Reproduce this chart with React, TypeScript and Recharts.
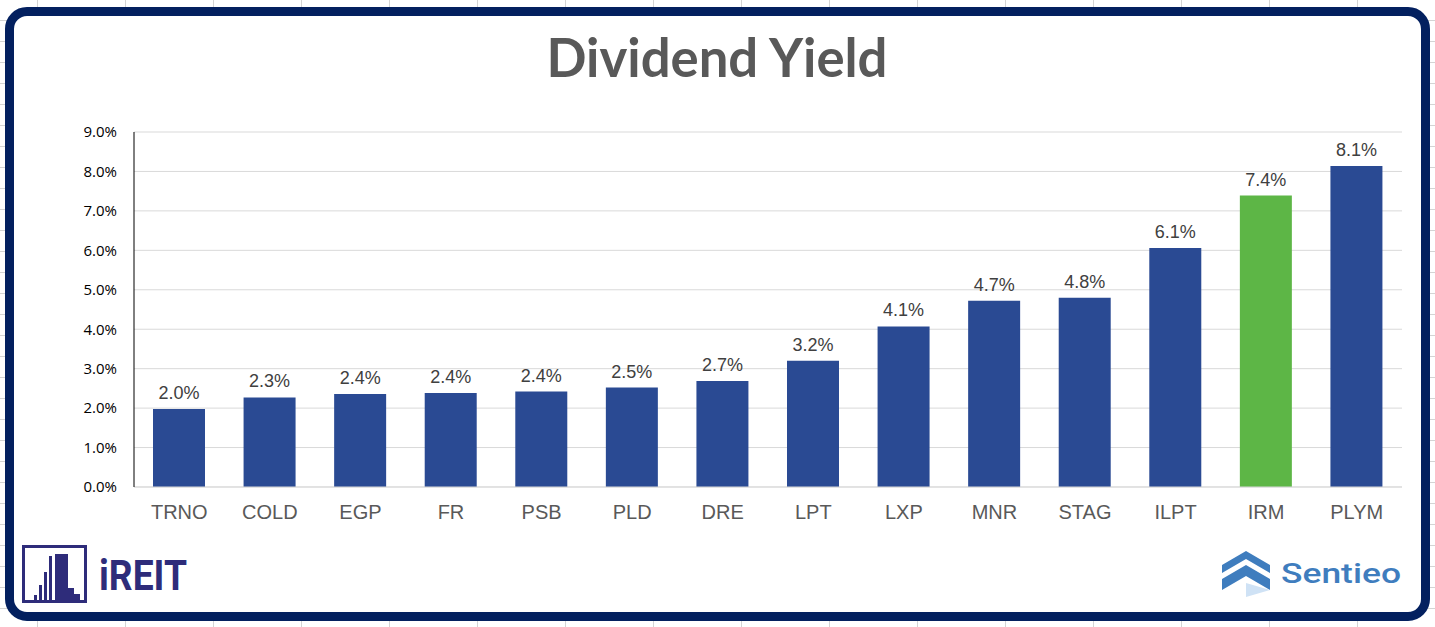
import React from 'react';
import { BarChart, Bar, XAxis, YAxis, CartesianGrid, LabelList, Cell } from 'recharts';

const tickers = ['TRNO', 'COLD', 'EGP', 'FR', 'PSB', 'PLD', 'DRE', 'LPT', 'LXP', 'MNR', 'STAG', 'ILPT', 'IRM', 'PLYM'];
const yields = [1.98, 2.27, 2.36, 2.38, 2.42, 2.52, 2.69, 3.2, 4.07, 4.72, 4.8, 6.06, 7.39, 8.14];
const highlighted = ['IRM'];
const yTicks = [0, 1, 2, 3, 4, 5, 6, 7, 8, 9];

const data = tickers.map((t, i) => ({ ticker: t, value: yields[i] }));

const NAVY = '#2A4A93';
const GREEN = '#5DB646';

const pct = (v: number) => `${v.toFixed(1)}%`;

const Logos: React.FC = () => (
  <svg width={1435} height={627} style={{ position: 'absolute', left: 0, top: 0 }}>
    <text
      x={717}
      y={77}
      textAnchor="middle"
      textLength={341}
      lengthAdjust="spacingAndGlyphs"
      fontFamily="Lato, 'Open Sans', sans-serif"
      fontWeight={700}
      fontSize={54}
      fill="#595959"
    >
      Dividend Yield
    </text>

    {/* iREIT mark */}
    <rect x={23.5} y={546.5} width={62} height={55} fill="none" stroke="#2E2C7A" strokeWidth={3} />
    <rect x={55} y={554} width={13} height={47} fill="#2E2C7A" />
    <polygon points="68,588 74,588 74,594 80,594 80,601 68,601" fill="#2E2C7A" />
    <rect x={49} y={556} width={3} height={45} fill="#2E2C7A" />
    <rect x={44} y={572} width={3} height={29} fill="#2E2C7A" />
    <rect x={39} y={585} width={3} height={16} fill="#2E2C7A" />
    <rect x={34} y={595} width={3} height={6} fill="#2E2C7A" />
    <text
      x={99}
      y={590}
      textLength={88}
      lengthAdjust="spacingAndGlyphs"
      fontFamily="Roboto, 'Liberation Sans', sans-serif"
      fontWeight={700}
      fontSize={43}
      fill="#2E2C7A"
    >
      iREIT
    </text>

    {/* Sentieo mark */}
    <polygon points="1222,565 1246,551 1270,565 1270,573 1246,559 1222,573" fill="#3F7DBE" />
    <polygon points="1222,579 1246,565 1270,579 1270,590 1246,576 1222,590" fill="#3F7DBE" />
    <polygon points="1246,583 1270,590 1246,597" fill="#CFE2F5" />
    <text
      x={1281}
      y={583}
      textLength={120}
      lengthAdjust="spacingAndGlyphs"
      fontFamily="Roboto, 'Noto Sans', sans-serif"
      fontWeight={500}
      fontSize={28}
      fill="#3F7DBE"
    >
      Sentieo
    </text>
  </svg>
);

const App: React.FC = () => {
  return (
    <div
      style={{
        position: 'absolute',
        left: 0,
        top: 0,
        width: 1435,
        height: 627,
        overflow: 'hidden',
        backgroundColor: '#ffffff',
        backgroundImage:
          'repeating-linear-gradient(to right, transparent 0, transparent 37px, #d4d4d4 37px, #d4d4d4 38px, transparent 38px, transparent 88px), repeating-linear-gradient(to bottom, transparent 0, transparent 20px, #d4d4d4 20px, #d4d4d4 21px)',
      }}
    >
      <div
        style={{
          position: 'absolute',
          left: 5,
          top: 7,
          width: 1425,
          height: 614,
          boxSizing: 'border-box',
          border: '9px solid #03205F',
          borderRadius: 22,
          background: '#ffffff',
        }}
      />
      <Logos />
      <div style={{ position: 'absolute', left: 0, top: 0 }}>
        <BarChart
          width={1435}
          height={627}
          data={data}
          margin={{ top: 132, right: 33, bottom: 110, left: 74 }}
        >
          <CartesianGrid vertical={false} stroke="#d9d9d9" />
          <XAxis
            dataKey="ticker"
            height={30}
            tickLine={false}
            tickSize={0}
            tickMargin={18}
            axisLine={{ stroke: '#d9d9d9' }}
            tick={{ fill: '#595959', fontSize: 20, fontFamily: "'Liberation Sans', Arial, sans-serif" }}
            interval={0}
          />
          <YAxis
            width={60}
            domain={[0, 9]}
            ticks={yTicks}
            tickFormatter={pct}
            tickLine={false}
            tickSize={0}
            tickMargin={17}
            axisLine={{ stroke: '#000000' }}
            tick={{ fill: '#000000', fontSize: 15, fontFamily: "'Open Sans', Lato, sans-serif" }}
          />
          <Bar dataKey="value" barSize={52} isAnimationActive={false}>
            {data.map((d) => (
              <Cell key={d.ticker} fill={highlighted.includes(d.ticker) ? GREEN : NAVY} />
            ))}
            <LabelList
              dataKey="value"
              position="top"
              offset={10}
              formatter={(v: any) => pct(Number(v))}
              fill="#404040"
              fontSize={18}
              fontFamily="'Liberation Sans', Arial, sans-serif"
            />
          </Bar>
        </BarChart>
      </div>
    </div>
  );
};

export default App;
